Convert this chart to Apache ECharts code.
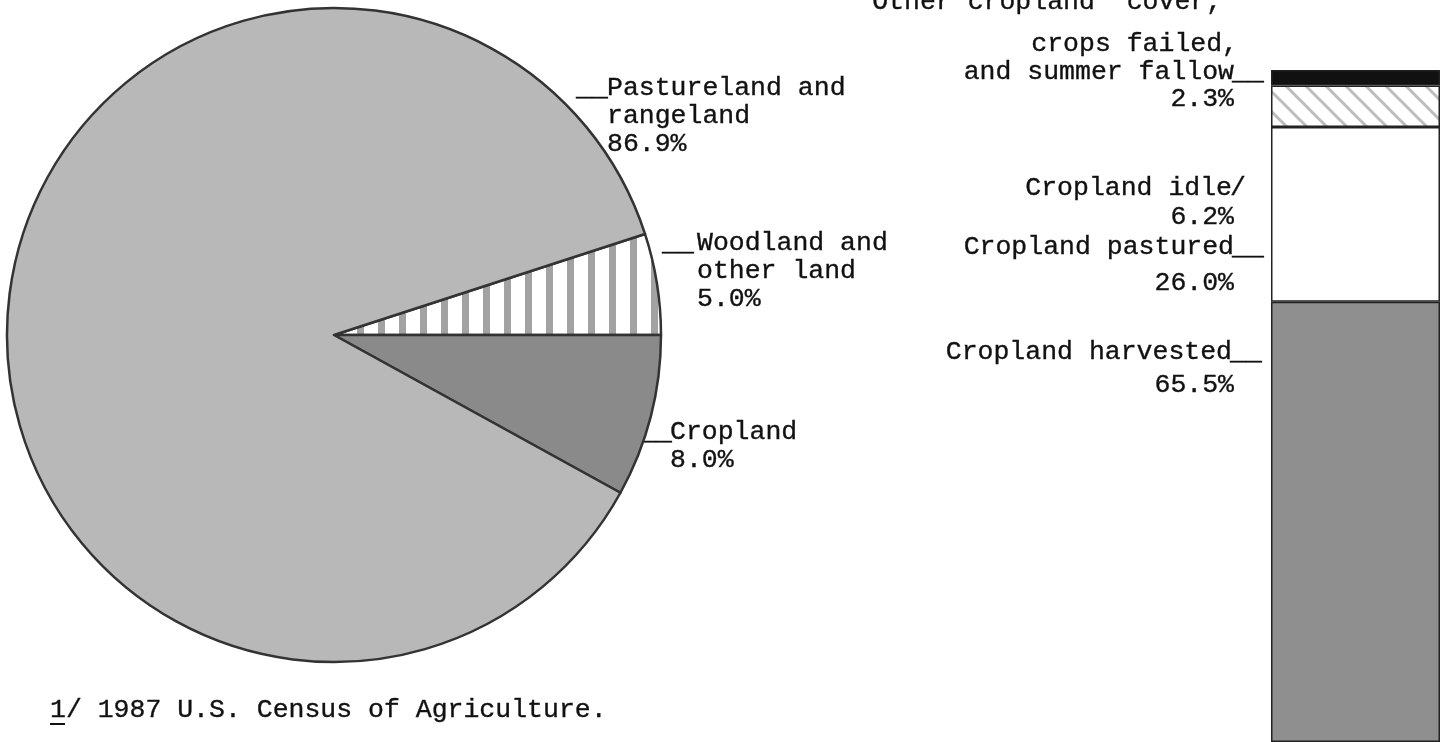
<!DOCTYPE html>
<html>
<head>
<meta charset="utf-8">
<script src="https://cdn.jsdelivr.net/npm/echarts@6/dist/echarts.min.js"></script>
<style>
html,body{margin:0;padding:0;background:#fff;}
#chart{width:1449px;height:742px;}
</style>
</head>
<body>
<div id="chart"></div>
<script>
// ---- Data ----
const pieNames = ['Woodland and\nother land', 'Cropland', 'Pastureland and\nrangeland'];
const pieValues = [5.0, 8.0, 86.9];

const barNames = ['Other cropland "cover,"\ncrops failed,\nand summer fallow', 'Cropland idle', 'Cropland pastured', 'Cropland harvested'];
const barValues = [2.3, 6.2, 26.0, 65.5];

const footnote = '1/ 1987 U.S. Census of Agriculture.';

// ---- Patterns ----
function stripePattern() {
  const c = document.createElement('canvas');
  c.width = 21; c.height = 10;
  const g = c.getContext('2d');
  g.fillStyle = '#ffffff'; g.fillRect(0, 0, 21, 10);
  g.fillStyle = '#a2a2a2'; g.fillRect(0, 0, 7, 10);
  return c;
}
function hatchPattern() {
  const s = 20;
  const c = document.createElement('canvas');
  c.width = s; c.height = s;
  const g = c.getContext('2d');
  g.fillStyle = '#ffffff'; g.fillRect(0, 0, s, s);
  g.strokeStyle = '#bdbdbd'; g.lineWidth = 3;
  g.beginPath();
  g.moveTo(-2, -2); g.lineTo(s + 2, s + 2);
  g.moveTo(-2 - s, -2); g.lineTo(2, s + 2);
  g.moveTo(s - 2, -2); g.lineTo(2 * s + 2, s + 2);
  g.stroke();
  return c;
}

const FONT = '"Liberation Mono", "DejaVu Sans Mono", monospace';
const FS = 26.5;
const LH = 28;

const chart = echarts.init(document.getElementById('chart'), null, {renderer: 'canvas'});

const pieColors = [{image: stripePattern(), repeat: 'repeat'}, '#8a8a8a', '#b8b8b8'];
const barColors = ['#111111', {image: hatchPattern(), repeat: 'repeat'}, '#ffffff', '#8f8f8f'];

function pct(v) { return v.toFixed(1) + '%'; }

const option = {
  animation: false,
  backgroundColor: '#ffffff',
  grid: {left: 1271, top: 70, width: 169, height: 677},
  xAxis: {type: 'category', data: ['Cropland'], show: false},
  yAxis: {type: 'value', min: 0, max: 100, inverse: true, show: false},
  series: [
    {
      type: 'pie', center: [334, 335], radius: 327, startAngle: 18, clockwise: true,
      label: {show: false}, labelLine: {show: false}, silent: true,
      itemStyle: {borderColor: '#333', borderWidth: 2.5},
      data: pieValues.map((v, i) => ({name: pieNames[i], value: v, itemStyle: {color: pieColors[i]}}))
    }
  ].concat(barValues.map((v, i) => ({
    type: 'bar', stack: 'crop', name: barNames[i], barWidth: '100%', silent: true,
    itemStyle: {color: barColors[i], borderColor: '#222', borderWidth: 1.5},
    data: [v]
  }))),
  graphic: []
};

// Text graphics (y = vertical middle of first line)
const T = [];
function txt(x, y, text, align) {
  T.push({type: 'text', x: x, y: y - LH / 2, silent: true,
    style: {text: text, font: FS + 'px ' + FONT, fill: '#111', stroke: '#111', lineWidth: 0.35,
            align: align || 'left', verticalAlign: 'top', lineHeight: LH}});
}
const pn = pieNames.map(n => n.split('\n'));
// Pastureland
txt(576, 88, '__');
txt(607, 88, pn[2].concat([pct(pieValues[2])]).join('\n'));
// Woodland
txt(662, 243, '__');
txt(697, 243, pn[0].concat([pct(pieValues[0])]).join('\n'));
// Cropland
txt(640, 432, '__');
txt(670, 432, pn[1].concat([pct(pieValues[1])]).join('\n'));

// Bar labels (right aligned)
const bn = barNames.map(n => n.split('\n'));
const RX = 1238;
txt(RX, 2, bn[0][0], 'right');
txt(RX, 44, bn[0][1], 'right');
txt(RX - 4, 72, bn[0][2], 'right');
txt(RX - 6, 72, '__', 'left');
txt(RX - 4, 99, pct(barValues[0]), 'right');
txt(RX - 6, 188, bn[1][0], 'right');
txt(RX - 8, 188, '/', 'left');
txt(RX - 4, 217, pct(barValues[1]), 'right');
txt(RX - 4, 247, bn[2][0], 'right');
txt(RX - 6, 247, '__', 'left');
txt(RX - 4, 283, pct(barValues[2]), 'right');
txt(RX - 6, 352, bn[3][0], 'right');
txt(RX - 8, 352, '__', 'left');
txt(RX - 4, 385, pct(barValues[3]), 'right');

// Footnote
txt(50, 710, footnote);
T.push({type: 'line', silent: true, shape: {x1: 50, y1: 724, x2: 65, y2: 724}, style: {stroke: '#111', lineWidth: 2}});

option.graphic = T;
chart.setOption(option);
</script>
</body>
</html>
